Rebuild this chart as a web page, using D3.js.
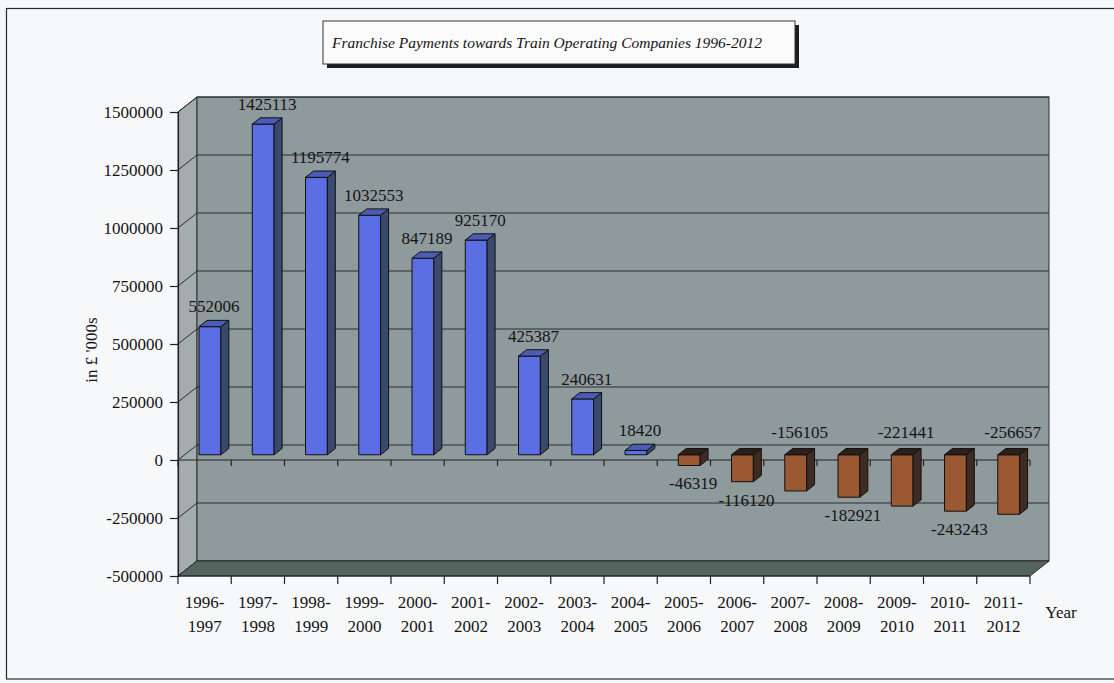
<!DOCTYPE html>
<html>
<head>
<meta charset="utf-8">
<script src="https://cdn.jsdelivr.net/npm/d3@7"></script>
<style>
  body { margin: 0; background: #f6f7fa; }
  svg { display: block; }
  text { font-family: "Liberation Serif", "Times New Roman", serif; fill: #141414; }
</style>
</head>
<body>
<svg id="chart" width="1114" height="683"></svg>
<script>
// Franchise payments (£ '000s) per financial year
const categories = [
  "1996-1997", "1997-1998", "1998-1999", "1999-2000", "2000-2001", "2001-2002",
  "2002-2003", "2003-2004", "2004-2005", "2005-2006", "2006-2007", "2007-2008",
  "2008-2009", "2009-2010", "2010-2011", "2011-2012"
];
const payments = [
  552006, 1425113, 1195774, 1032553, 847189, 925170, 425387, 240631,
  18420, -46319, -116120, -156105, -182921, -221441, -243243, -256657
];
const valueTicks = [-500000, -250000, 0, 250000, 500000, 750000, 1000000, 1250000, 1500000];
const chartTitle = "Franchise Payments towards Train Operating Companies 1996-2012";
const valueTitle = "in £ '000s";
const categoryTitle = "Year";

const svg = d3.select("#chart");

// plain integers with an ASCII hyphen for negatives
const fmt = d3.formatLocale({ decimal: ".", thousands: "", grouping: [3], currency: ["£", ""], minus: "-" }).format("d");

// outer frame
svg.append("rect").attr("x", 6.5).attr("y", 8.5).attr("width", 1120).attr("height", 670.5)
  .attr("fill", "#f7f8fa").attr("stroke", "#2a2a2a").attr("stroke-width", 1.2);

// front plane of the 3-D box and its depth vector
const left = 178, right = 1030;
const y = d3.scaleLinear().domain([-500000, 1500000]).range([576, 112]);
const x = d3.scaleBand().domain(categories).range([left, right]);
const depth = { dx: 19, dy: 15 };
const P = (px, py, f) => [px + f * depth.dx, py - f * depth.dy];
const yTop = y(1500000), yBot = y(-500000);
const pts = a => a.map(p => p.join(",")).join(" ");

const g = svg.append("g");

// side wall
g.append("polygon")
  .attr("points", pts([[left, yTop], P(left, yTop, 1), P(left, yBot, 1), [left, yBot]]))
  .attr("fill", "#a4acad").attr("stroke", "#2b2f30").attr("stroke-width", 1);

// back wall
const bw0 = P(left, yTop, 1), bw1 = P(right, yBot, 1);
g.append("rect").attr("x", bw0[0]).attr("y", bw0[1])
  .attr("width", bw1[0] - bw0[0]).attr("height", bw1[1] - bw0[1])
  .attr("fill", "#8f9a9c").attr("stroke", "#2b2f30").attr("stroke-width", 1);

// gridlines on back wall and side wall
valueTicks.forEach(t => {
  const a = P(left, y(t), 1), b = P(right, y(t), 1);
  g.append("line").attr("x1", a[0]).attr("y1", a[1]).attr("x2", b[0]).attr("y2", b[1])
    .attr("stroke", "#2a2e2f").attr("stroke-width", 1);
  g.append("line").attr("x1", left).attr("y1", y(t)).attr("x2", a[0]).attr("y2", a[1])
    .attr("stroke", "#2a2e2f").attr("stroke-width", 1);
});

// floor
g.append("polygon")
  .attr("points", pts([[left, yBot], P(left, yBot, 1), P(right, yBot, 1), [right, yBot]]))
  .attr("fill", "#56645f").attr("stroke", "#2b2f30").attr("stroke-width", 1);

// category axis along the zero line
const edges = categories.map(c => x(c)).concat([right]);
g.append("line").attr("x1", left).attr("y1", y(0)).attr("x2", right).attr("y2", y(0))
  .attr("stroke", "#222").attr("stroke-width", 1.2);
edges.forEach(e => {
  g.append("line").attr("x1", e).attr("y1", y(0)).attr("x2", e).attr("y2", y(0) + 6)
    .attr("stroke", "#222").attr("stroke-width", 1.2);
});

// bars
const f0 = 0.35, f1 = 0.77;
const bandW = x.bandwidth();
const barW = bandW * 0.41;
const colours = {
  pos: { front: "#5b6ee4", side: "#3b4a6c", top: "#4c5cb3" },
  neg: { front: "#9a5933", side: "#3e2b21", top: "#2c1f17" }
};

const bars = categories.map((c, i) => {
  const v = payments[i];
  const x0 = x(c) + bandW * 0.27, x1 = x0 + barW;
  const yt = y(Math.max(v, 0)), yb = y(Math.min(v, 0));
  return { c, v, x0, x1, yt, yb, col: v >= 0 ? colours.pos : colours.neg };
});

const barG = g.selectAll("g.bar").data(bars).join("g").attr("class", "bar");
barG.append("polygon")
  .attr("points", d => pts([P(d.x0, d.yt, f0), P(d.x1, d.yt, f0), P(d.x1, d.yb, f0), P(d.x0, d.yb, f0)]))
  .attr("fill", d => d.col.front).attr("stroke", "#111").attr("stroke-width", 1);
barG.append("polygon")
  .attr("points", d => pts([P(d.x1, d.yt, f0), P(d.x1, d.yt, f1), P(d.x1, d.yb, f1), P(d.x1, d.yb, f0)]))
  .attr("fill", d => d.col.side).attr("stroke", "#111").attr("stroke-width", 1);
barG.append("polygon")
  .attr("points", d => pts([P(d.x0, d.yt, f0), P(d.x0, d.yt, f1), P(d.x1, d.yt, f1), P(d.x1, d.yt, f0)]))
  .attr("fill", d => d.col.top).attr("stroke", "#111").attr("stroke-width", 1);

// value labels; negative labels go under the bar unless that collides with the previous one
const labelG = g.append("g");
const placed = [];
bars.forEach(d => {
  const cx = P(d.x0, 0, f0)[0] + (barW + (f1 - f0) * depth.dx) / 2;
  const t = labelG.append("text").attr("text-anchor", "middle")
    .attr("font-size", 17).attr("dy", "0.35em").attr("x", cx).text(fmt(d.v));
  const w = t.node().getComputedTextLength();
  const boxAt = cy => ({ x0: cx - w / 2, x1: cx + w / 2, y0: cy - 8, y1: cy + 8 });
  const hits = b => placed.some(p => b.x0 < p.x1 - 1 && b.x1 > p.x0 + 1 && b.y0 < p.y1 && b.y1 > p.y0);
  let cy;
  if (d.v >= 0) {
    cy = y(d.v) - f1 * depth.dy - 14;
  } else {
    cy = y(d.v) - f0 * depth.dy + 18;
    if (hits(boxAt(cy))) cy = y(0) - f1 * depth.dy - 16;
  }
  t.attr("y", cy);
  placed.push(boxAt(cy));
});

// value axis
const yAxis = d3.axisLeft(y).tickValues(valueTicks).tickSize(8).tickPadding(7).tickFormat(fmt);
const ya = svg.append("g").attr("transform", `translate(${left},0)`).call(yAxis);
ya.selectAll("text").attr("font-size", 17).attr("fill", "#141414")
  .style("font-family", "'Liberation Serif', serif");
ya.selectAll("line,path").attr("stroke", "#222").attr("stroke-width", 1.2);

// category axis on the front of the floor
svg.append("line").attr("x1", left).attr("y1", yBot).attr("x2", right).attr("y2", yBot)
  .attr("stroke", "#222").attr("stroke-width", 1.2);
edges.forEach(e => {
  svg.append("line").attr("x1", e).attr("y1", yBot).attr("x2", e).attr("y2", yBot + 8)
    .attr("stroke", "#222").attr("stroke-width", 1.2);
});
const catG = svg.append("g");
categories.forEach(c => {
  const [a, b] = c.split("-");
  const cx = x(c) + bandW / 2;
  const t = catG.append("text").attr("text-anchor", "middle").attr("font-size", 17);
  t.append("tspan").attr("x", cx).attr("y", 608).text(a + "-");
  t.append("tspan").attr("x", cx).attr("y", 632).text(b);
});

svg.append("text").attr("x", 1061).attr("y", 618).attr("text-anchor", "middle")
  .attr("font-size", 17).text(categoryTitle);

svg.append("text").attr("transform", "translate(97,350) rotate(-90)")
  .attr("text-anchor", "middle").attr("font-size", 17).text(valueTitle);

// title box with drop shadow
const tb = { x: 323, y: 21, w: 472, h: 43 };
svg.append("rect").attr("x", tb.x + 4).attr("y", tb.y + 4).attr("width", tb.w).attr("height", tb.h)
  .attr("fill", "#1e1e1e");
svg.append("rect").attr("x", tb.x).attr("y", tb.y).attr("width", tb.w).attr("height", tb.h)
  .attr("fill", "#fbfbfc").attr("stroke", "#333").attr("stroke-width", 1);
svg.append("text").attr("x", tb.x + 9).attr("y", tb.y + tb.h / 2).attr("dy", "0.35em")
  .attr("font-size", 15.5).attr("font-style", "italic").text(chartTitle);
</script>
</body>
</html>
